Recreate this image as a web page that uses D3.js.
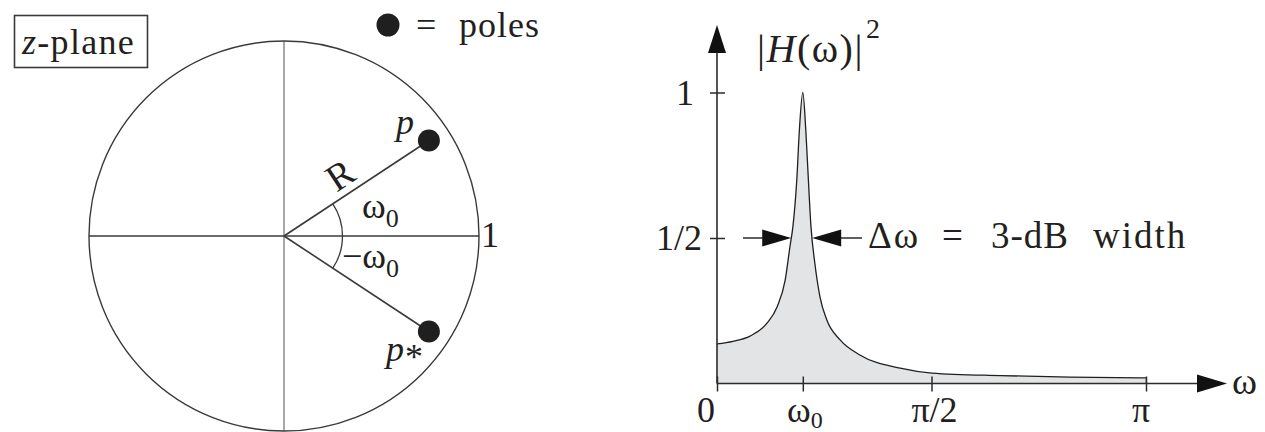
<!DOCTYPE html>
<html>
<head>
<meta charset="utf-8">
<script src="https://cdn.jsdelivr.net/npm/d3@7"></script>
<style>
  body { margin: 0; background: #fff; }
  svg { display: block; }
  svg text { font-family: "Liberation Serif", "Times New Roman", Times, serif; }
</style>
</head>
<body>
<svg id="fig" width="1265" height="432"></svg>
<script>
// Resonator magnitude response: ω as a fraction of π, and normalized |H(ω)|²
const omegaOverPi = [0, 0.037, 0.077, 0.117, 0.140, 0.159, 0.170, 0.177, 0.186, 0.192, 0.200,
                     0.207, 0.213, 0.219, 0.228, 0.240, 0.256, 0.287, 0.333, 0.427, 0.501, 0.660, 0.823, 1.0];
const magnitudeSq = [0.136, 0.145, 0.163, 0.208, 0.263, 0.356, 0.47, 0.54, 0.70, 0.87, 1.0,
                     0.87, 0.70, 0.54, 0.414, 0.298, 0.218, 0.15, 0.098, 0.053, 0.036, 0.027, 0.022, 0.019];

// Frequency axis ticks (fractions of π) and their labels
const freqTicks = [0, 0.2, 0.5, 1];
const freqTickLabels = [["0", ""], ["ω", "0"], ["π/2", ""], ["π", ""]];

// Gain axis ticks
const gainTicks = [0.5, 1];
const gainTickLabels = ["1/2", "1"];

// Pole pair in the z-plane: radius R and angle ω0 (degrees)
const poleRadius = 0.89;
const poleAngleDeg = 33.4;

const svg = d3.select("#fig");
const ink = "#2b2b2b";
const txt = "#231f20";

/* ---------------- z-plane ---------------- */
const cx = 284, cy = 236, rad = 195;
const zx = d3.scaleLinear([-1, 1], [cx - rad, cx + rad]);
const zy = d3.scaleLinear([-1, 1], [cy + rad, cy - rad]);
const zp = svg.append("g").attr("fill", txt);

// imaginary axis (light) and real axis
zp.append("line").attr("x1", zx(0)).attr("x2", zx(0)).attr("y1", zy(1)).attr("y2", zy(-1))
  .attr("stroke", "#a8a8a8").attr("stroke-width", 2);
zp.append("line").attr("x1", zx(-1)).attr("x2", zx(1)).attr("y1", zy(0)).attr("y2", zy(0))
  .attr("stroke", "#3a3a3a").attr("stroke-width", 1.6);

// unit circle
zp.append("circle").attr("cx", zx(0)).attr("cy", zy(0)).attr("r", zx(1) - zx(0))
  .attr("fill", "none").attr("stroke", "#3a3a3a").attr("stroke-width", 1.4);

// poles p and p*
const th = poleAngleDeg * Math.PI / 180;
const poles = [
  { re: poleRadius * Math.cos(th), im:  poleRadius * Math.sin(th) },
  { re: poleRadius * Math.cos(th), im: -poleRadius * Math.sin(th) }
];
zp.selectAll("line.radius").data(poles).join("line").attr("class", "radius")
  .attr("x1", zx(0)).attr("y1", zy(0))
  .attr("x2", d => zx(d.re)).attr("y2", d => zy(d.im))
  .attr("stroke", "#3a3a3a").attr("stroke-width", 1.6);

// angle arc ±ω0
const arcR = zx(0.3) - zx(0);
const ap = d3.path();
ap.arc(zx(0), zy(0), arcR, -th, th, false);
zp.append("path").attr("d", ap.toString()).attr("fill", "none")
  .attr("stroke", "#3a3a3a").attr("stroke-width", 1.3);

zp.selectAll("circle.pole").data(poles).join("circle").attr("class", "pole")
  .attr("cx", d => zx(d.re)).attr("cy", d => zy(d.im)).attr("r", 11)
  .attr("fill", "#1f1f1f");

// labels
const fs = 36;
zp.append("rect").attr("x", 14.5).attr("y", 15.5).attr("width", 133).attr("height", 52)
  .attr("fill", "none").attr("stroke", "#3a3a3a").attr("stroke-width", 1.6);
const zt = zp.append("text").attr("x", 22).attr("y", 54).attr("font-size", fs).attr("letter-spacing", 1.3);
zt.append("tspan").attr("font-style", "italic").text("z");
zt.append("tspan").text("-plane");

zp.append("circle").attr("cx", 388).attr("cy", 25).attr("r", 11.5).attr("fill", "#1f1f1f");
zp.append("text").attr("x", 416).attr("y", 37).attr("font-size", fs).text("=");
zp.append("text").attr("x", 459).attr("y", 37).attr("font-size", fs).attr("letter-spacing", 1).text("poles");

zp.append("text").attr("x", 396).attr("y", 134).attr("font-size", fs)
  .attr("font-style", "italic").text("p");
zp.append("text").attr("transform", `translate(340,175) rotate(${-poleAngleDeg})`)
  .attr("text-anchor", "middle").attr("dy", 13).attr("font-size", 38).text("R");

const w1 = zp.append("text").attr("x", 362).attr("y", 218).attr("font-size", fs);
w1.append("tspan").text("ω");
w1.append("tspan").attr("font-size", 26).attr("dy", 9).text("0");
const w2 = zp.append("text").attr("x", 342).attr("y", 268).attr("font-size", fs);
w2.append("tspan").text("−ω");
w2.append("tspan").attr("font-size", 26).attr("dy", 9).text("0");

zp.append("text").attr("x", 481).attr("y", 247).attr("font-size", fs).text("1");

const ps = zp.append("text").attr("x", 386).attr("y", 361).attr("font-size", fs);
ps.append("tspan").attr("font-style", "italic").text("p");
ps.append("tspan").attr("dy", 8).attr("dx", 1).text("*");

/* ---------------- |H(ω)|² ---------------- */
const x = d3.scaleLinear([0, 1], [717, 1146]);
const y = d3.scaleLinear([0, 1], [383.5, 92.5]);
const rp = svg.append("g").attr("fill", txt);

const pts = omegaOverPi.map((w, i) => [w, magnitudeSq[i]]);
rp.append("path").datum(pts)
  .attr("d", d3.area().x(d => x(d[0])).y0(y(0)).y1(d => y(d[1])).curve(d3.curveMonotoneX))
  .attr("fill", "#e3e4e5");
rp.append("path").datum(pts)
  .attr("d", d3.line().x(d => x(d[0])).y(d => y(d[1])).curve(d3.curveMonotoneX))
  .attr("fill", "none").attr("stroke", "#1f1f1f").attr("stroke-width", 1.3);
rp.append("line").attr("x1", x(1)).attr("x2", x(1))
  .attr("y1", y(magnitudeSq[magnitudeSq.length - 1])).attr("y2", y(0))
  .attr("stroke", "#8a8a8a").attr("stroke-width", 1.2);

// axes
const xAxis = d3.axisBottom(x).tickValues(freqTicks).tickFormat("").tickSizeInner(8).tickSizeOuter(0);
const gx = rp.append("g").attr("transform", `translate(0,${y(0)})`).call(xAxis);
gx.select(".domain").remove();
gx.selectAll(".tick line").attr("y1", -7).attr("stroke", ink).attr("stroke-width", 1.5);

const yAxis = d3.axisLeft(y).tickValues(gainTicks).tickFormat("").tickSizeInner(7).tickSizeOuter(0);
const gy = rp.append("g").attr("transform", `translate(${x(0)},0)`).call(yAxis);
gy.select(".domain").remove();
gy.selectAll(".tick line").attr("x1", 8).attr("stroke", ink).attr("stroke-width", 1.5);

rp.append("line").attr("x1", x(0)).attr("x2", 1200).attr("y1", y(0)).attr("y2", y(0))
  .attr("stroke", ink).attr("stroke-width", 1.6);
rp.append("line").attr("x1", x(0)).attr("x2", x(0)).attr("y1", y(0)).attr("y2", 50)
  .attr("stroke", ink).attr("stroke-width", 1.6);
rp.append("path").attr("d", `M1227,${y(0)} L1197,${y(0) - 9} L1197,${y(0) + 9} Z`).attr("fill", "#111");
rp.append("path").attr("d", `M${x(0)},25 L${x(0) - 9},53 L${x(0) + 9},53 Z`).attr("fill", "#111");

// tick labels
const xl = rp.selectAll("text.xl").data(freqTicks).join("text").attr("class", "xl")
  .attr("x", (d, i) => x(d) + [-11, 2, 3, -5][i]).attr("y", 422)
  .attr("text-anchor", "middle").attr("font-size", fs);
xl.append("tspan").text((d, i) => freqTickLabels[i][0]);
xl.append("tspan").attr("font-size", 24).attr("dy", 6).text((d, i) => freqTickLabels[i][1]);

rp.selectAll("text.yl").data(gainTicks).join("text").attr("class", "yl")
  .attr("x", (d, i) => [702, 694][i]).attr("y", d => y(d) + 12)
  .attr("text-anchor", "end").attr("font-size", fs).text((d, i) => gainTickLabels[i]);

rp.append("text").attr("x", 1232).attr("y", 394).attr("font-size", 38).text("ω");

const hl = rp.append("text").attr("x", 757).attr("y", 62).attr("font-size", 40).attr("letter-spacing", 1.5);
hl.append("tspan").text("|");
hl.append("tspan").attr("font-style", "italic").text("H");
hl.append("tspan").text("(ω)|");
hl.append("tspan").attr("font-size", 28).attr("dy", -24).attr("dx", 2).text("2");

// 3-dB width markers at the half-power crossings
function crossing(from, step) {
  let i = from;
  while (magnitudeSq[i + step] >= 0.5) i += step;
  const j = i + step;
  const t = (magnitudeSq[i] - 0.5) / (magnitudeSq[i] - magnitudeSq[j]);
  return omegaOverPi[i] + t * (omegaOverPi[j] - omegaOverPi[i]);
}
const peak = magnitudeSq.indexOf(d3.max(magnitudeSq));
const wL = x(crossing(peak, -1)), wR = x(crossing(peak, 1));
const yh = y(0.5);
rp.append("line").attr("x1", 743).attr("x2", wL - 20).attr("y1", yh).attr("y2", yh)
  .attr("stroke", ink).attr("stroke-width", 1.5);
rp.append("path").attr("d", `M${wL},${yh} L${wL - 29},${yh - 8.5} L${wL - 29},${yh + 8.5} Z`).attr("fill", "#111");
rp.append("line").attr("x1", wR + 20).attr("x2", 862).attr("y1", yh).attr("y2", yh)
  .attr("stroke", ink).attr("stroke-width", 1.5);
rp.append("path").attr("d", `M${wR},${yh} L${wR + 29},${yh - 8.5} L${wR + 29},${yh + 8.5} Z`).attr("fill", "#111");

const dw = rp.append("text").attr("y", 248).attr("font-size", 37);
dw.append("tspan").attr("x", 868).attr("letter-spacing", 2).text("Δω");
dw.append("tspan").attr("x", 942).text("=");
dw.append("tspan").attr("x", 991).attr("letter-spacing", 1).text("3-dB");
dw.append("tspan").attr("x", 1093).attr("letter-spacing", 2).text("width");
</script>
</body>
</html>
